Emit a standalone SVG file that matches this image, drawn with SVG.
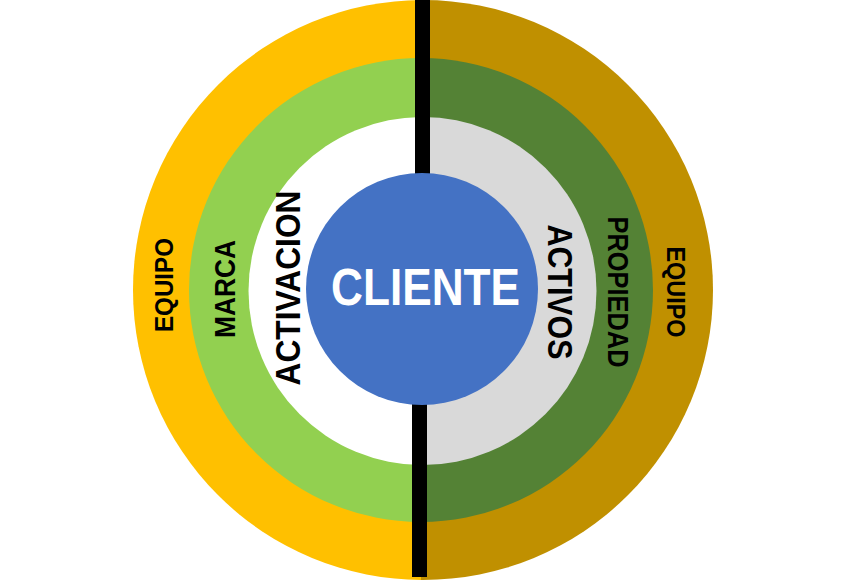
<svg xmlns="http://www.w3.org/2000/svg" width="845" height="584" viewBox="0 0 845 584">
  <defs>
    <clipPath id="leftHalf"><rect x="0" y="0" width="421" height="584"/></clipPath>
    <clipPath id="rightHalf"><rect x="421" y="0" width="424" height="584"/></clipPath>
    <style>
      .lbl { font-family: "Liberation Sans", Arial, sans-serif; font-weight: bold; fill: #000; text-anchor: middle; }
      .client { font-family: "Liberation Sans", Arial, sans-serif; font-weight: bold; fill: #FFFFFF; text-anchor: middle; }
    </style>
  </defs>
  <rect x="0" y="0" width="845" height="584" fill="#FFFFFF"/>
  <g id="ring-equipo">
    <circle cx="423" cy="290" r="290" fill="#C09000" clip-path="url(#rightHalf)"/>
    <circle cx="423" cy="290" r="290" fill="#FFC000" clip-path="url(#leftHalf)"/>
  </g>
  <g id="ring-marca-propiedad">
    <circle cx="421" cy="290" r="232" fill="#548235" clip-path="url(#rightHalf)"/>
    <circle cx="421" cy="290" r="232" fill="#92D050" clip-path="url(#leftHalf)"/>
  </g>
  <g id="ring-activacion-activos">
    <circle cx="422.5" cy="291" r="174" fill="#D9D9D9" clip-path="url(#rightHalf)"/>
    <circle cx="422.5" cy="291" r="174" fill="#FFFFFF" clip-path="url(#leftHalf)"/>
  </g>
  <g id="dividers">
    <rect x="415" y="0" width="15" height="175" fill="#000000"/>
    <rect x="412" y="403" width="15" height="174" fill="#000000"/>
  </g>
  <g id="cliente">
    <circle cx="422" cy="289" r="116" fill="#4472C4"/>
    <text class="client" x="425.5" y="305" font-size="52" textLength="189" lengthAdjust="spacingAndGlyphs">CLIENTE</text>
  </g>
  <g id="label-equipo-left">
    <text class="lbl" font-size="25" transform="translate(173,285) rotate(-90)" textLength="94" lengthAdjust="spacingAndGlyphs">EQUIPO</text>
  </g>
  <g id="label-marca">
    <text class="lbl" font-size="30" transform="translate(235,289) rotate(-90)" textLength="98" lengthAdjust="spacingAndGlyphs">MARCA</text>
  </g>
  <g id="label-activacion">
    <text class="lbl" font-size="35" transform="translate(300,288) rotate(-90)" textLength="195" lengthAdjust="spacingAndGlyphs">ACTIVACION</text>
  </g>
  <g id="label-activos">
    <text class="lbl" font-size="35" transform="translate(548,292) rotate(90)" textLength="135" lengthAdjust="spacingAndGlyphs">ACTIVOS</text>
  </g>
  <g id="label-propiedad">
    <text class="lbl" font-size="30" transform="translate(608,292) rotate(90)" textLength="151" lengthAdjust="spacingAndGlyphs">PROPIEDAD</text>
  </g>
  <g id="label-equipo-right">
    <text class="lbl" font-size="25" transform="translate(667,292) rotate(90)" textLength="91" lengthAdjust="spacingAndGlyphs">EQUIPO</text>
  </g>
</svg>
